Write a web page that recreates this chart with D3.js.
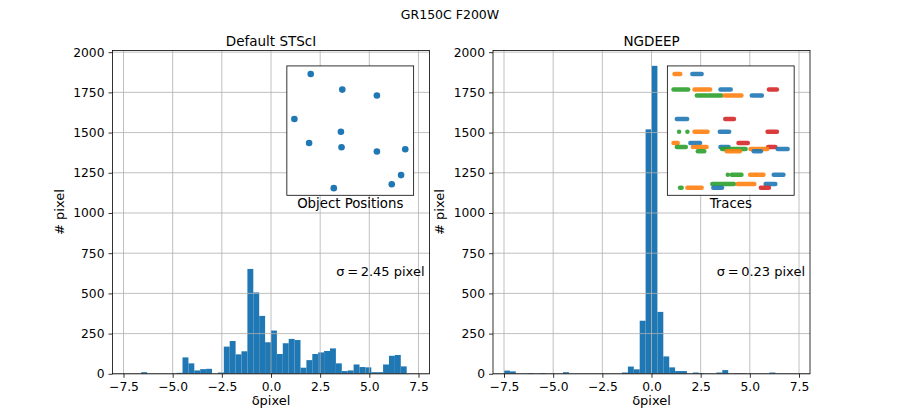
<!DOCTYPE html>
<html>
<head>
<meta charset="utf-8">
<script src="https://cdn.jsdelivr.net/npm/d3@7"></script>
<style>
  body { margin: 0; background: #fff; }
  svg { font-family: "DejaVu Sans", sans-serif; }
</style>
</head>
<body>
<div id="chart"></div>
<script>
// histogram bins: lower edge of first bin, width of each bin
const binStart = -7.5;
const binWidth = 0.3;

const countsSTScI = [0, 0, 0, 10, 0, 0, 0, 0, 0, 6,
    102, 65, 21, 29, 31, 0, 8, 169, 204, 121,
    140, 652, 506, 360, 196, 269, 123, 190, 217, 210,
    38, 85, 123, 133, 142, 158, 65, 17, 21, 58,
    42, 40, 10, 10, 58, 112, 117, 46, 0, 0];

const countsNGDEEP = [20, 15, 0, 0, 4, 0, 4, 0, 0, 0,
    10, 0, 0, 0, 0, 0, 0, 0, 0, 0,
    8, 45, 28, 330, 1520, 1915, 385, 108, 40, 17,
    17, 0, 8, 4, 0, 0, 8, 23, 0, 3,
    3, 0, 0, 0, 0, 8, 0, 0, 0, 0];

const xTicks = [-7.5, -5.0, -2.5, 0.0, 2.5, 5.0, 7.5];
const yTicks = [0, 250, 500, 750, 1000, 1250, 1500, 1750, 2000];

// object positions (inset units 0..100)
const objX = [17.8, 43.5, 71.7, 4.5, 42.4, 16.5, 42.9, 71.7, 94.8, 91.4, 83.8, 36.6];
const objY = [95.1, 82.7, 78.0, 59.2, 49.1, 40.1, 36.7, 33.3, 35.1, 14.5, 7.2, 4.1];

// traces: start x, end x, y, colour index
const traceX0 = [4.2, 18.7, 3.4, 20.5, 41.6, 81.1, 22.4, 45.0, 67.1, 6.1, 45.5, 7.9, 14.7, 20.5, 41.1, 80.0,
    3.4, 17.1, 56.3, 6.1, 19.2, 21.8, 41.6, 80.5, 42.9, 66.1, 88.2, 23.2, 46.8, 68.7,
    47.6, 50.8, 65.8, 85.0, 35.0, 55.5, 78.4, 8.7, 14.7, 35.8, 74.5];
const traceX1 = [8.9, 26.3, 15.3, 33.2, 50.0, 87.6, 42.4, 58.7, 75.3, 14.5, 52.6, 7.9, 14.7, 31.1, 48.7, 87.6,
    6.8, 25.0, 63.9, 13.4, 19.2, 30.3, 48.2, 86.3, 62.1, 79.7, 96.3, 28.4, 57.4, 74.5,
    47.6, 58.7, 76.6, 92.9, 52.6, 69.2, 86.3, 10.0, 26.3, 42.9, 81.1];
const traceY = [95.1, 95.1, 82.7, 82.7, 82.7, 82.7, 78.0, 78.0, 78.0, 59.2, 59.2, 49.1, 49.1, 49.1, 49.1, 49.1,
    40.1, 40.1, 40.1, 37.0, 37.0, 37.0, 37.0, 37.0, 35.4, 35.4, 35.4, 33.6, 33.6, 33.6,
    14.7, 14.7, 14.7, 14.7, 7.5, 7.5, 7.5, 4.4, 4.4, 4.4, 4.4];
const traceC = [1, 0, 2, 1, 0, 3, 2, 1, 0, 0, 3, 2, 2, 1, 0, 3,
    1, 0, 3, 2, 1, 1, 0, 3, 2, 1, 0, 2, 1, 0,
    2, 2, 1, 0, 2, 1, 0, 2, 1, 0, 3];
const traceColors = ["#1f77b4", "#ff7f0e", "#2ca02c", "#d62728"];

const width = 900, height = 420;
const svg = d3.select("#chart").append("svg")
    .attr("width", width).attr("height", height);

svg.append("text")
    .attr("x", 450).attr("y", 19)
    .attr("text-anchor", "middle")
    .attr("font-size", "12.5px")
    .text("GR150C F200W");

const axTop = 50.4, axBottom = 373.8, axW = 317;
const panels = [
    {left: 112.5, title: "Default STScI", counts: countsSTScI, sigma: "2.45", inset: "positions", insetLabel: "Object Positions"},
    {left: 493, title: "NGDEEP", counts: countsNGDEEP, sigma: "0.23", inset: "traces", insetLabel: "Traces"}
];

panels.forEach(p => {
    const x = d3.scaleLinear().domain([-8.06, 8.06]).range([p.left, p.left + axW]);
    const y = d3.scaleLinear().domain([0, 2011]).range([axBottom, axTop]);
    const g = svg.append("g");

    const bins = p.counts.map((c, i) => ({x0: binStart + i * binWidth, x1: binStart + (i + 1) * binWidth, n: c}));
    g.selectAll("rect.bar")
        .data(bins.filter(b => b.n > 0))
        .join("rect")
        .attr("class", "bar")
        .attr("x", d => x(d.x0))
        .attr("width", d => x(d.x1) - x(d.x0))
        .attr("y", d => y(d.n))
        .attr("height", d => y(0) - y(d.n))
        .attr("fill", "#1f77b4");

    // grid drawn above the bars like matplotlib
    g.selectAll("line.gx").data(xTicks).join("line")
        .attr("x1", d => x(d)).attr("x2", d => x(d))
        .attr("y1", axTop).attr("y2", axBottom)
        .attr("stroke", "#b0b0b0").attr("stroke-width", 0.8);
    g.selectAll("line.gy").data(yTicks).join("line")
        .attr("y1", d => y(d)).attr("y2", d => y(d))
        .attr("x1", p.left).attr("x2", p.left + axW)
        .attr("stroke", "#b0b0b0").attr("stroke-width", 0.8);

    const xAxis = g.append("g")
        .attr("transform", `translate(0,${axBottom})`)
        .call(d3.axisBottom(x).tickValues(xTicks).tickSize(4).tickPadding(4)
            .tickFormat(d => d3.format(".1f")(d).replace("-", "\u2212")));
    const yAxis = g.append("g")
        .attr("transform", `translate(${p.left},0)`)
        .call(d3.axisLeft(y).tickValues(yTicks).tickSize(4).tickPadding(4)
            .tickFormat(d3.format("d")));
    [xAxis, yAxis].forEach(a => {
        a.select(".domain").remove();
        a.selectAll("line").attr("stroke", "#000").attr("stroke-width", 0.8);
        a.selectAll("text").attr("font-size", "12.3px").attr("fill", "#000")
            .attr("font-family", "DejaVu Sans");
    });

    g.append("rect")
        .attr("x", p.left).attr("y", axTop).attr("width", axW).attr("height", axBottom - axTop)
        .attr("fill", "none").attr("stroke", "#000").attr("stroke-width", 0.8);

    g.append("text")
        .attr("x", p.left + axW / 2).attr("y", 46)
        .attr("text-anchor", "middle").attr("font-size", "13.5px")
        .text(p.title);
    g.append("text")
        .attr("x", p.left + axW / 2).attr("y", 405)
        .attr("text-anchor", "middle").attr("font-size", "13px")
        .text("\u03b4pixel");
    g.append("text")
        .attr("transform", `translate(${p.left - 49},${(axTop + axBottom) / 2}) rotate(-90)`)
        .attr("text-anchor", "middle").attr("font-size", "13px")
        .text("# pixel");
    g.append("text")
        .attr("x", p.left + axW - 5).attr("y", 276)
        .attr("text-anchor", "end").attr("font-size", "13px")
        .text(`\u03c3\u2009=\u20090.00 pixel`.replace("0.00", p.sigma));

    // inset
    const ix = p.left + 0.55 * axW, iw = 0.4 * axW;
    const iy = axBottom - 0.952 * (axBottom - axTop), ih = 0.4 * (axBottom - axTop);
    const sx = d3.scaleLinear().domain([0, 100]).range([ix + 2, ix + iw - 2]);
    const sy = d3.scaleLinear().domain([0, 100]).range([iy + ih - 2, iy + 2]);
    g.append("rect")
        .attr("x", ix).attr("y", iy).attr("width", iw).attr("height", ih)
        .attr("fill", "#fff");
    if (p.inset === "positions") {
        g.selectAll("circle.obj").data(objX).join("circle")
            .attr("cx", d => sx(d)).attr("cy", (d, i) => sy(objY[i]))
            .attr("r", 3.3).attr("fill", "#1f77b4");
    } else {
        g.selectAll("line.trace").data(traceX0).join("line")
            .attr("x1", d => sx(d)).attr("x2", (d, i) => sx(traceX1[i]))
            .attr("y1", (d, i) => sy(traceY[i])).attr("y2", (d, i) => sy(traceY[i]))
            .attr("stroke", (d, i) => traceColors[traceC[i]])
            .attr("stroke-width", 4.5).attr("stroke-linecap", "round")
            .attr("stroke-opacity", 0.9);
    }
    g.append("rect")
        .attr("x", ix).attr("y", iy).attr("width", iw).attr("height", ih)
        .attr("fill", "none").attr("stroke", "#000").attr("stroke-width", 0.8);
    g.append("text")
        .attr("x", ix + iw / 2).attr("y", iy + ih + 13)
        .attr("text-anchor", "middle").attr("font-size", "13.3px")
        .text(p.insetLabel);
});
</script>
</body>
</html>
